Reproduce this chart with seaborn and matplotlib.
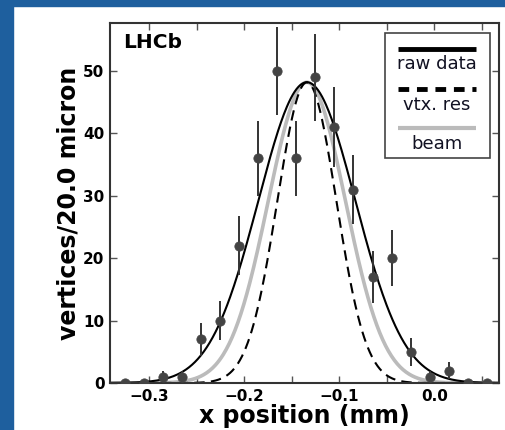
import numpy as np
import pandas as pd
import seaborn as sns
import matplotlib.pyplot as plt
from matplotlib.patches import Rectangle

# bin centres (mm) and counts per 20 micron bin
x_pos = [-0.325, -0.305, -0.285, -0.265, -0.245, -0.225, -0.205, -0.185, -0.165, -0.145,
         -0.125, -0.105, -0.085, -0.065, -0.045, -0.025, -0.005, 0.015, 0.035, 0.055]
counts = [0, 0, 1, 1, 7, 10, 22, 36, 50, 36, 49, 41, 31, 17, 20, 5, 1, 2, 0, 0]

# gaussian shapes: peak, mean, sigma
peak = 48.2
mean = -0.134
sigma_raw = 0.051
sigma_vtx = 0.031
sigma_beam = 0.0405

x_ticks = [-0.3, -0.25, -0.2, -0.15, -0.1, -0.05, 0.0, 0.05]
x_labels = ['\u22120.3', '', '\u22120.2', '', '\u22120.1', '', '0.0', '']
y_ticks = [0, 10, 20, 30, 40, 50]

sns.set_style('ticks')
plt.rcParams['font.family'] = ['DejaVu Sans']
plt.rcParams['text.color'] = 'black'
plt.rcParams['axes.labelcolor'] = 'black'
plt.rcParams['xtick.labelcolor'] = 'black'
plt.rcParams['ytick.labelcolor'] = 'black'

fig = plt.figure(figsize=(5.06, 4.30), dpi=100)
# blue frame of the slide
fig.patches.append(Rectangle((0, 0), 13 / 506, 1, transform=fig.transFigure, color='#1e5f9e', zorder=0))
fig.patches.append(Rectangle((0, 1 - 6 / 430), 1, 6 / 430, transform=fig.transFigure, color='#1e5f9e', zorder=0))
ax = fig.add_axes([110 / 506, 1 - 383 / 430, 389 / 506, 360 / 430])

xs = np.linspace(-0.34, 0.07, 400)
curves = pd.DataFrame({
    'x': np.concatenate([xs, xs, xs]),
    'y': np.concatenate([peak * np.exp(-0.5 * ((xs - mean) / s) ** 2)
                         for s in (sigma_beam, sigma_vtx, sigma_raw)]),
    'model': ['beam'] * len(xs) + ['vtx. res'] * len(xs) + ['raw data'] * len(xs),
})

sns.lineplot(data=curves[curves.model == 'beam'], x='x', y='y', color='#bbbbbb', lw=2.6, ax=ax)
sns.lineplot(data=curves[curves.model == 'vtx. res'], x='x', y='y', color='black', lw=1.5,
             ax=ax).lines[-1].set_dashes([5, 3])
sns.lineplot(data=curves[curves.model == 'raw data'], x='x', y='y', color='black', lw=1.5, ax=ax)

errs = np.sqrt(counts)
ax.errorbar(x_pos, counts, yerr=errs, fmt='none', ecolor='#333333', elinewidth=1.4, capsize=0, zorder=4)
sns.scatterplot(x=x_pos, y=counts, color='#444444', s=45, edgecolor='#444444', zorder=5, ax=ax)

ax.set_xlim(-0.341, 0.068)
ax.set_ylim(0, 57.7)
ax.set_xticks(x_ticks)
ax.set_xticklabels(x_labels)
ax.set_yticks(y_ticks)
ax.tick_params(direction='in', top=True, right=True, length=5, width=1, color='#555555',
               labelsize=11, pad=4)
for lab in ax.get_xticklabels() + ax.get_yticklabels():
    lab.set_fontweight('bold')
for sp in ax.spines.values():
    sp.set_color('#333333')
    sp.set_linewidth(1.5)
ax.set_xlabel('x position (mm)', fontsize=17, fontweight='bold', labelpad=0)
ax.set_ylabel('vertices/20.0 micron', fontsize=17, fontweight='bold', labelpad=2)

ax.text(13 / 389, 1 - 20 / 360, 'LHCb', transform=ax.transAxes, fontsize=14.5,
        fontweight='bold', va='center', ha='left')

# legend: line above its label, drawn by hand
def fx(px):
    return (px - 110) / 389

def fy(py):
    return (383 - py) / 360

ax.add_patch(Rectangle((fx(385), fy(158)), fx(490) - fx(385), fy(33) - fy(158),
                       transform=ax.transAxes, fill=True, facecolor='white',
                       edgecolor='#444444', lw=1.2, zorder=6))
leg = [('raw data', 49, 64, dict(color='black', lw=3.5)),
       ('vtx. res', 89, 105, dict(color='black', lw=3.5, dashes=[2.2, 1.6])),
       ('beam', 128, 144, dict(color='#bbbbbb', lw=3))]
for name, ly, ty, style in leg:
    ax.plot([fx(398), fx(476)], [fy(ly), fy(ly)], transform=ax.transAxes, zorder=7,
            solid_capstyle='butt', dash_capstyle='butt', **style)
    ax.text(fx(437), fy(ty), name, transform=ax.transAxes, ha='center', va='center',
            fontsize=13, color='#111122', zorder=7)

fig.savefig('out.png', dpi=100)
